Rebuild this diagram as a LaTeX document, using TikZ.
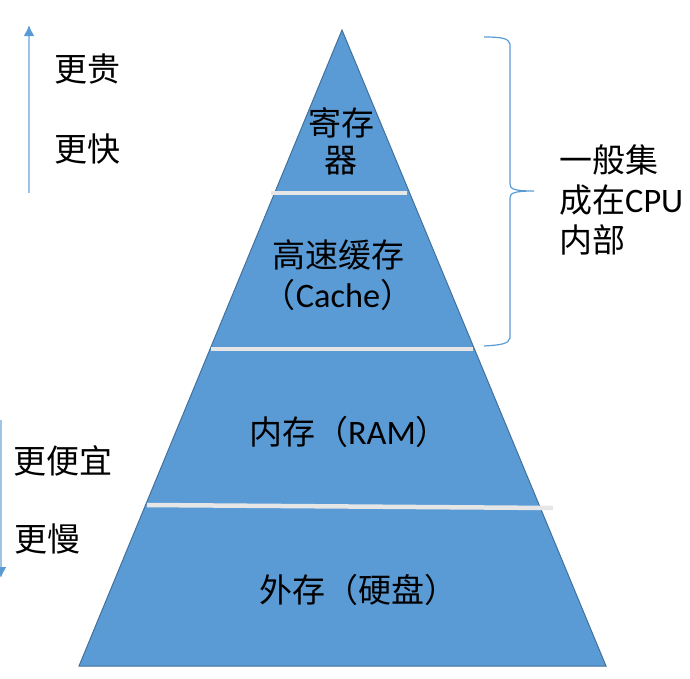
\documentclass[tikz,border=0pt]{standalone}
\usepackage{fontspec}
\setmainfont{Carlito}
\newfontfamily\cjk{Noto Sans CJK SC}
\newfontfamily\latfont[Scale=1.04]{Carlito}
\newcommand{\lat}[1]{{\latfont #1}}
\usepackage{tikz}
\usetikzlibrary{
  arrows.meta,
  positioning
}
\definecolor{levelblue}{RGB}{91,155,213}
\definecolor{edgeblue}{RGB}{65,113,156}
\definecolor{lightblue}{RGB}{157,195,230}
\definecolor{sepgray}{RGB}{231,230,230}

\begin{document}
\begin{tikzpicture}[
  x=1pt,y=-1pt,
  label/.style={inner sep=0pt,font=\cjk\fontsize{33}{40}\selectfont,align=center},
  sidenote/.style={inner sep=0pt,font=\cjk\fontsize{33}{40}\selectfont,align=left,anchor=west},
  separator/.style={draw=sepgray,line width=4.5pt},
  sidearrow/.style={draw=lightblue,line width=2pt,-{Latex[length=11pt,width=11pt,color=levelblue]}},
  bracket/.style={draw=levelblue,line width=1.2pt},
]
\useasboundingbox (0,0) rectangle (690,678);

% pyramid
\coordinate (apex) at (342,30);
\coordinate (baseL) at (79,666);
\coordinate (baseR) at (606,666);
\fill[levelblue,draw=edgeblue,line width=1pt] (apex) -- (baseR) -- (baseL) -- cycle;

% level borders
\coordinate (sepA1) at (271,193); \coordinate (sepA2) at (407,193);
\coordinate (sepB1) at (211,349); \coordinate (sepB2) at (473,349);
\coordinate (sepC1) at (147,505); \coordinate (sepC2) at (553,508);
\draw[separator] (sepA1) -- (sepA2);
\draw[separator] (sepB1) -- (sepB2);
\draw[separator] (sepC1) -- (sepC2);

% levels
\node[label,font=\cjk\fontsize{33}{37}\selectfont] (reg) at (341,141) {寄存\\器};
\node[label] (cache) at (338,275) {高速缓存\\（\lat{Cache}）};
\node[label] (ram) at (349,432) {内存（\lat{RAM}）};
\node[label] (disk) at (358,590) {外存（硬盘）};

% left side
\node[label] (pricier) at (87,69) {更贵};
\node[label] (faster) at (87,149) {更快};
\node[label] (cheaper) at (63,461) {更便宜};
\node[label] (slower) at (47,539) {更慢};

\coordinate (upS) at (29,193);
\coordinate (upE) at (29,25);
\coordinate (downS) at (1,420);
\coordinate (downE) at (1,578);
\draw[sidearrow] (upS) -- (upE);
\draw[sidearrow] (downS) -- (downE);

% right side
\coordinate (braceT) at (484,37);
\coordinate (braceTip) at (534,191);
\coordinate (braceB) at (484,346);
\draw[bracket] (braceT) .. controls (500,37) and (509,38) .. (510,44)
  -- (510,184) .. controls (510,189) and (514,191) .. (braceTip)
  .. controls (514,191) and (510,193) .. (510,198)
  -- (510,338) .. controls (509,344) and (500,345) .. (braceB);
\node[sidenote] (cpu) at (559,200) {一般集\\成在\lat{CPU}\\内部};
\end{tikzpicture}
\end{document}
